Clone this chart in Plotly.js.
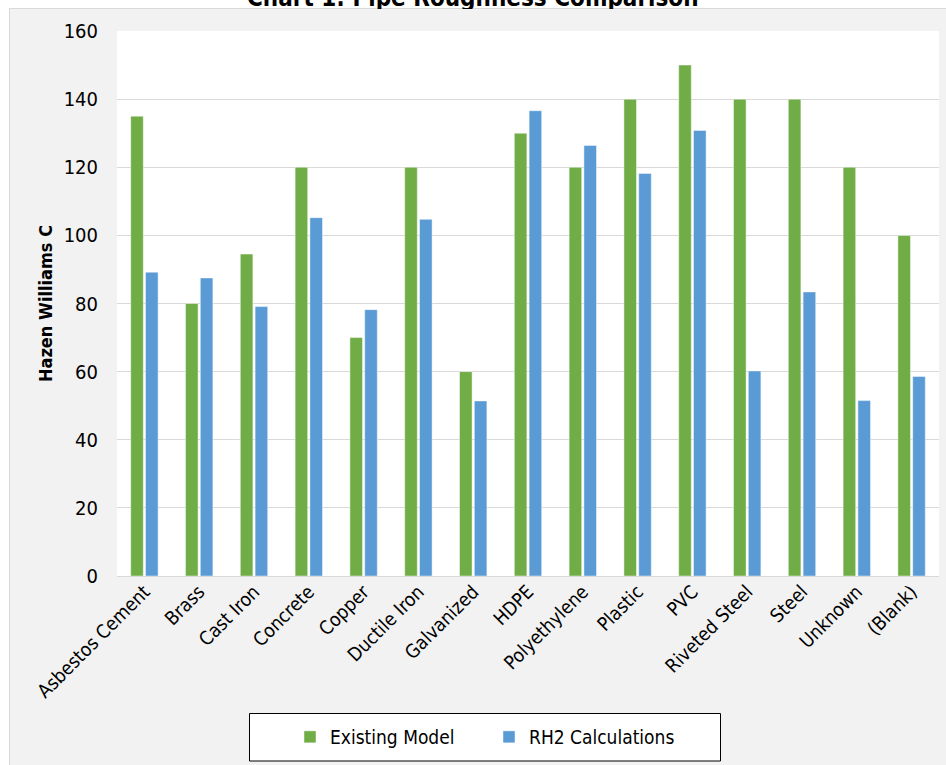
<!DOCTYPE html>
<html>
<head>
<meta charset="utf-8">
<script src="https://cdn.plot.ly/plotly-3.0.1.min.js"></script>
<style>html,body{margin:0;padding:0;background:#fff;}#chart{width:946px;height:765px;}</style>
</head>
<body>
<div id="chart"></div>
<script>
var categories = ["Asbestos Cement","Brass","Cast Iron","Concrete","Copper","Ductile Iron","Galvanized","HDPE","Polyethylene","Plastic","PVC","Riveted Steel","Steel","Unknown","(Blank)"];
var existingModel = [135, 80, 94.5, 120, 70, 120, 60, 130, 120, 140, 150, 140, 140, 120, 100];
var rh2Calculations = [89.2, 87.5, 79.1, 105.2, 78.2, 104.7, 51.4, 136.6, 126.4, 118.2, 130.8, 60.2, 83.4, 51.5, 58.6];
var seriesNames = ["Existing Model", "RH2 Calculations"];
var yTicks = [0, 20, 40, 60, 80, 100, 120, 140, 160];

var FONT = "Liberation Sans Narrow, Arial Narrow, DejaVu Sans Condensed, sans-serif";
var W = 946, H = 765, ML = 117, MR = 7, MT = 31, MB = 189;
var PW = W - ML - MR, PH = H - MT - MB;
function px(x){ return (x - ML) / PW; }
function py(y){ return (H - MB - y) / PH; }

var traces = [
  {type: "bar", name: seriesNames[0], x: categories, y: existingModel,
   marker: {color: "#70AD47", line: {color: "rgba(255,255,255,0.45)", width: 1}}},
  {type: "bar", name: seriesNames[1], x: categories, y: rh2Calculations,
   marker: {color: "#5B9BD5", line: {color: "rgba(255,255,255,0.45)", width: 1}}}
];

var layout = {
  width: W, height: H,
  margin: {l: ML, r: MR, t: MT, b: MB, pad: 0},
  paper_bgcolor: "#f2f2f2",
  plot_bgcolor: "#ffffff",
  barmode: "group",
  bargap: 0.46,
  bargroupgap: 0.15,
  font: {family: FONT, size: 19, color: "#000000"},
  showlegend: true,
  legend: {
    orientation: "h", x: px(290), xanchor: "left", y: py(737), yanchor: "middle",
    xref: "paper", yref: "paper",
    bgcolor: "rgba(0,0,0,0)", borderwidth: 0,
    font: {family: FONT, size: 19, color: "#000000"},
    entrywidth: 154, entrywidthmode: "pixels"
  },
  xaxis: {
    type: "category", tickangle: -45, automargin: false,
    showgrid: false, showline: false, zeroline: false, ticks: "",
    tickfont: {family: FONT, size: 19, color: "#000000"}
  },
  yaxis: {
    range: [0, 160], tickmode: "array", tickvals: yTicks, ticktext: yTicks.map(String),
    showgrid: true, gridcolor: "#d9d9d9", gridwidth: 1,
    zeroline: true, zerolinecolor: "#d9d9d9", zerolinewidth: 1,
    showline: false, ticks: "", ticklabelstandoff: 18, automargin: true,
    tickfont: {family: FONT, size: 20, color: "#000000"},
    title: {text: "Hazen Williams C", standoff: 6,
            font: {family: FONT, size: 18, color: "#000000", weight: "bold"}}
  },
  shapes: [
    {type: "rect", xref: "paper", yref: "paper", x0: px(-20), x1: px(1000), y0: py(8), y1: py(-20),
     fillcolor: "#ffffff", line: {width: 0}, layer: "above"},
    {type: "rect", xref: "paper", yref: "paper", x0: px(-20), x1: px(9), y0: py(800), y1: py(-20),
     fillcolor: "#ffffff", line: {width: 0}, layer: "above"},
    {type: "rect", xref: "paper", yref: "paper", x0: px(9.5), x1: px(1000), y0: py(800), y1: py(8.5),
     fillcolor: "rgba(0,0,0,0)", line: {color: "#d9d9d9", width: 1}, layer: "above"},
    {type: "rect", xref: "paper", yref: "paper", x0: px(249.5), x1: px(720.5), y0: py(761), y1: py(713.5),
     fillcolor: "#ffffff", line: {color: "#000000", width: 1}, layer: "above"}
  ],
  annotations: [
    {text: "<b>Chart 1: Pipe Roughness Comparison</b>", xref: "paper", yref: "paper",
     x: px(473), y: py(-2), xanchor: "center", yanchor: "middle", showarrow: false,
     font: {family: FONT, size: 24, color: "#000000"}},
    {text: " ", xref: "paper", yref: "paper", x: px(473), y: py(15.5), xanchor: "center", yanchor: "middle",
     width: 500, height: 13, borderpad: 0, borderwidth: 0, bgcolor: "#f2f2f2", showarrow: false}
  ]
};

Plotly.newPlot("chart", traces, layout, {staticPlot: true, displayModeBar: false});
</script>
</body>
</html>
